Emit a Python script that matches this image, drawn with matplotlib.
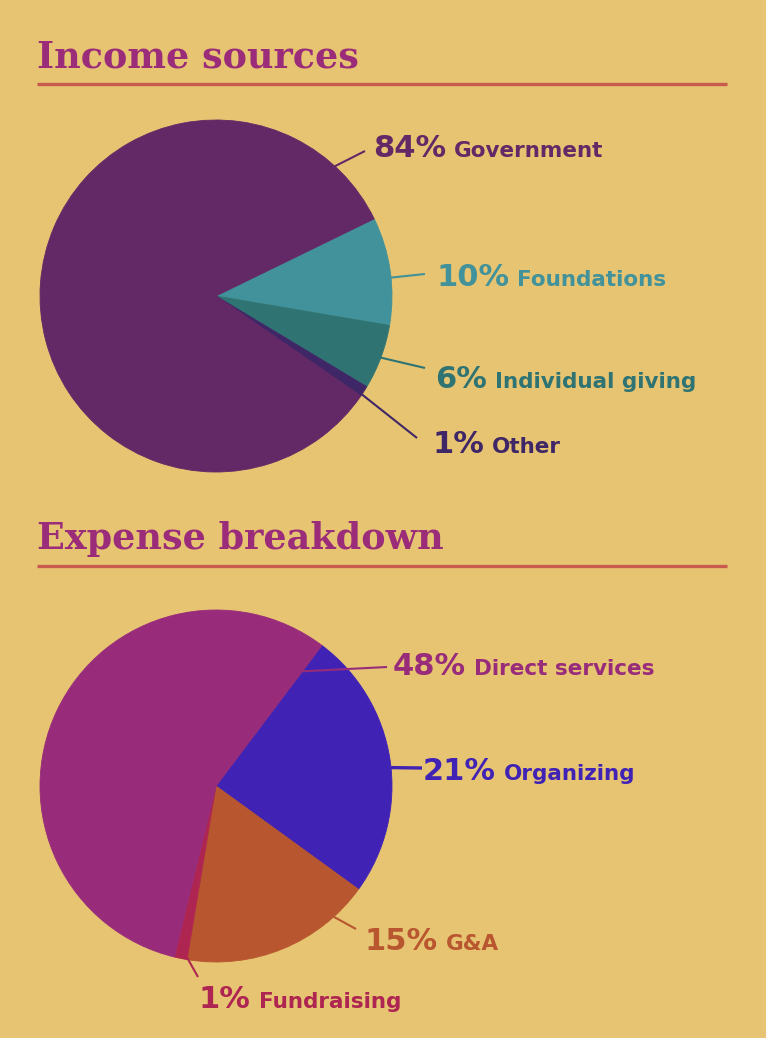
import numpy as np
import matplotlib.pyplot as plt

W, H = 766, 1038
bg = "#E6C471"

# income sources
income_labels = ["Government", "Foundations", "Individual giving", "Other"]
income_pct = [84, 10, 6, 1]
income_colors = ["#632866", "#41929A", "#2F7473", "#3F2767"]

# expense breakdown
expense_labels = ["Direct services", "Organizing", "G&A", "Fundraising"]
expense_pct = [48, 21, 15, 1]
expense_colors = ["#982C7B", "#4023B5", "#B85630", "#AE2551"]

title_color = "#9B2C7A"
rule_color = "#C95A4E"

# layout (pixels from top-left): pie center/radius, wedge order, start angle
pies = [
    dict(vals=income_pct, names=income_labels, cols=income_colors,
         c=(216, 296), r=176, start=26, order=[1, 2, 3, 0],
         title="Income sources", ty=67, ly=84,
         # leader anchor (angle, radius frac), leader end, text pos
         lab=[(47.5, 1.0, (365, 151), (373, 157)),
              (6, 1.0, (425, 274), (436, 286)),
              (-20.5, 1.0, (425, 368), (435, 388)),
              (-34, 1.0, (417, 438), (432, 453))]),
    dict(vals=expense_pct, names=expense_labels, cols=expense_colors,
         c=(216, 786), r=176, start=53, order=[1, 2, 3, 0],
         title="Expense breakdown", ty=549, ly=566,
         lab=[(53.5, 0.81, (387, 667), (393, 675)),
              (6, 1.0, (422, 768), (423, 780)),
              (-48, 1.0, (356, 929), (365, 950)),
              (-99.5, 0.99, (198, 977), (199, 1008))]),
]

fig = plt.figure(figsize=(W / 100, H / 100), dpi=100, facecolor=bg)
ax = fig.add_axes([0, 0, 1, 1])
ax.set_facecolor(bg)

texts = []
for p in pies:
    cx, cy = p["c"][0], H - p["c"][1]
    v = [p["vals"][i] for i in p["order"]]
    cl = [p["cols"][i] for i in p["order"]]
    wedges, _ = ax.pie(v, colors=cl, startangle=p["start"], counterclock=False,
                       center=(cx, cy), radius=p["r"],
                       wedgeprops=dict(linewidth=0.6))
    for w, c in zip(wedges, cl):
        w.set_edgecolor(c)

    ax.text(37, H - p["ty"], p["title"], fontsize=26.3, fontweight="bold",
            family="DejaVu Serif", color=title_color, va="baseline")
    ax.plot([37, 727], [H - p["ly"], H - p["ly"]], color=rule_color, lw=2.4,
            solid_capstyle="butt")

    for k, (ang, rf, end, tp) in enumerate(p["lab"]):
        col = p["cols"][k]
        a = np.deg2rad(ang)
        x0 = cx + p["r"] * rf * np.cos(a)
        y0 = cy + p["r"] * rf * np.sin(a)
        lw = 2.4 if p["names"][k] == "Organizing" else 1.5
        ax.plot([x0, end[0]], [y0, H - end[1]], color=col, lw=lw,
                solid_capstyle="butt")
        t = ax.text(tp[0], H - tp[1], f"{p['vals'][k]}%", fontsize=22,
                    fontweight="bold", color=col, va="baseline")
        texts.append((t, p["names"][k], col, H - tp[1]))

ax.set_xlim(0, W)
ax.set_ylim(0, H)
ax.axis("off")

renderer = fig.canvas.get_renderer()
for t, name, col, y in texts:
    bb = t.get_window_extent(renderer)
    ax.text(bb.x1 + 8, y, name, fontsize=15.5, fontweight="bold", color=col,
            va="baseline")

fig.savefig("out.png", dpi=100, facecolor=bg)
